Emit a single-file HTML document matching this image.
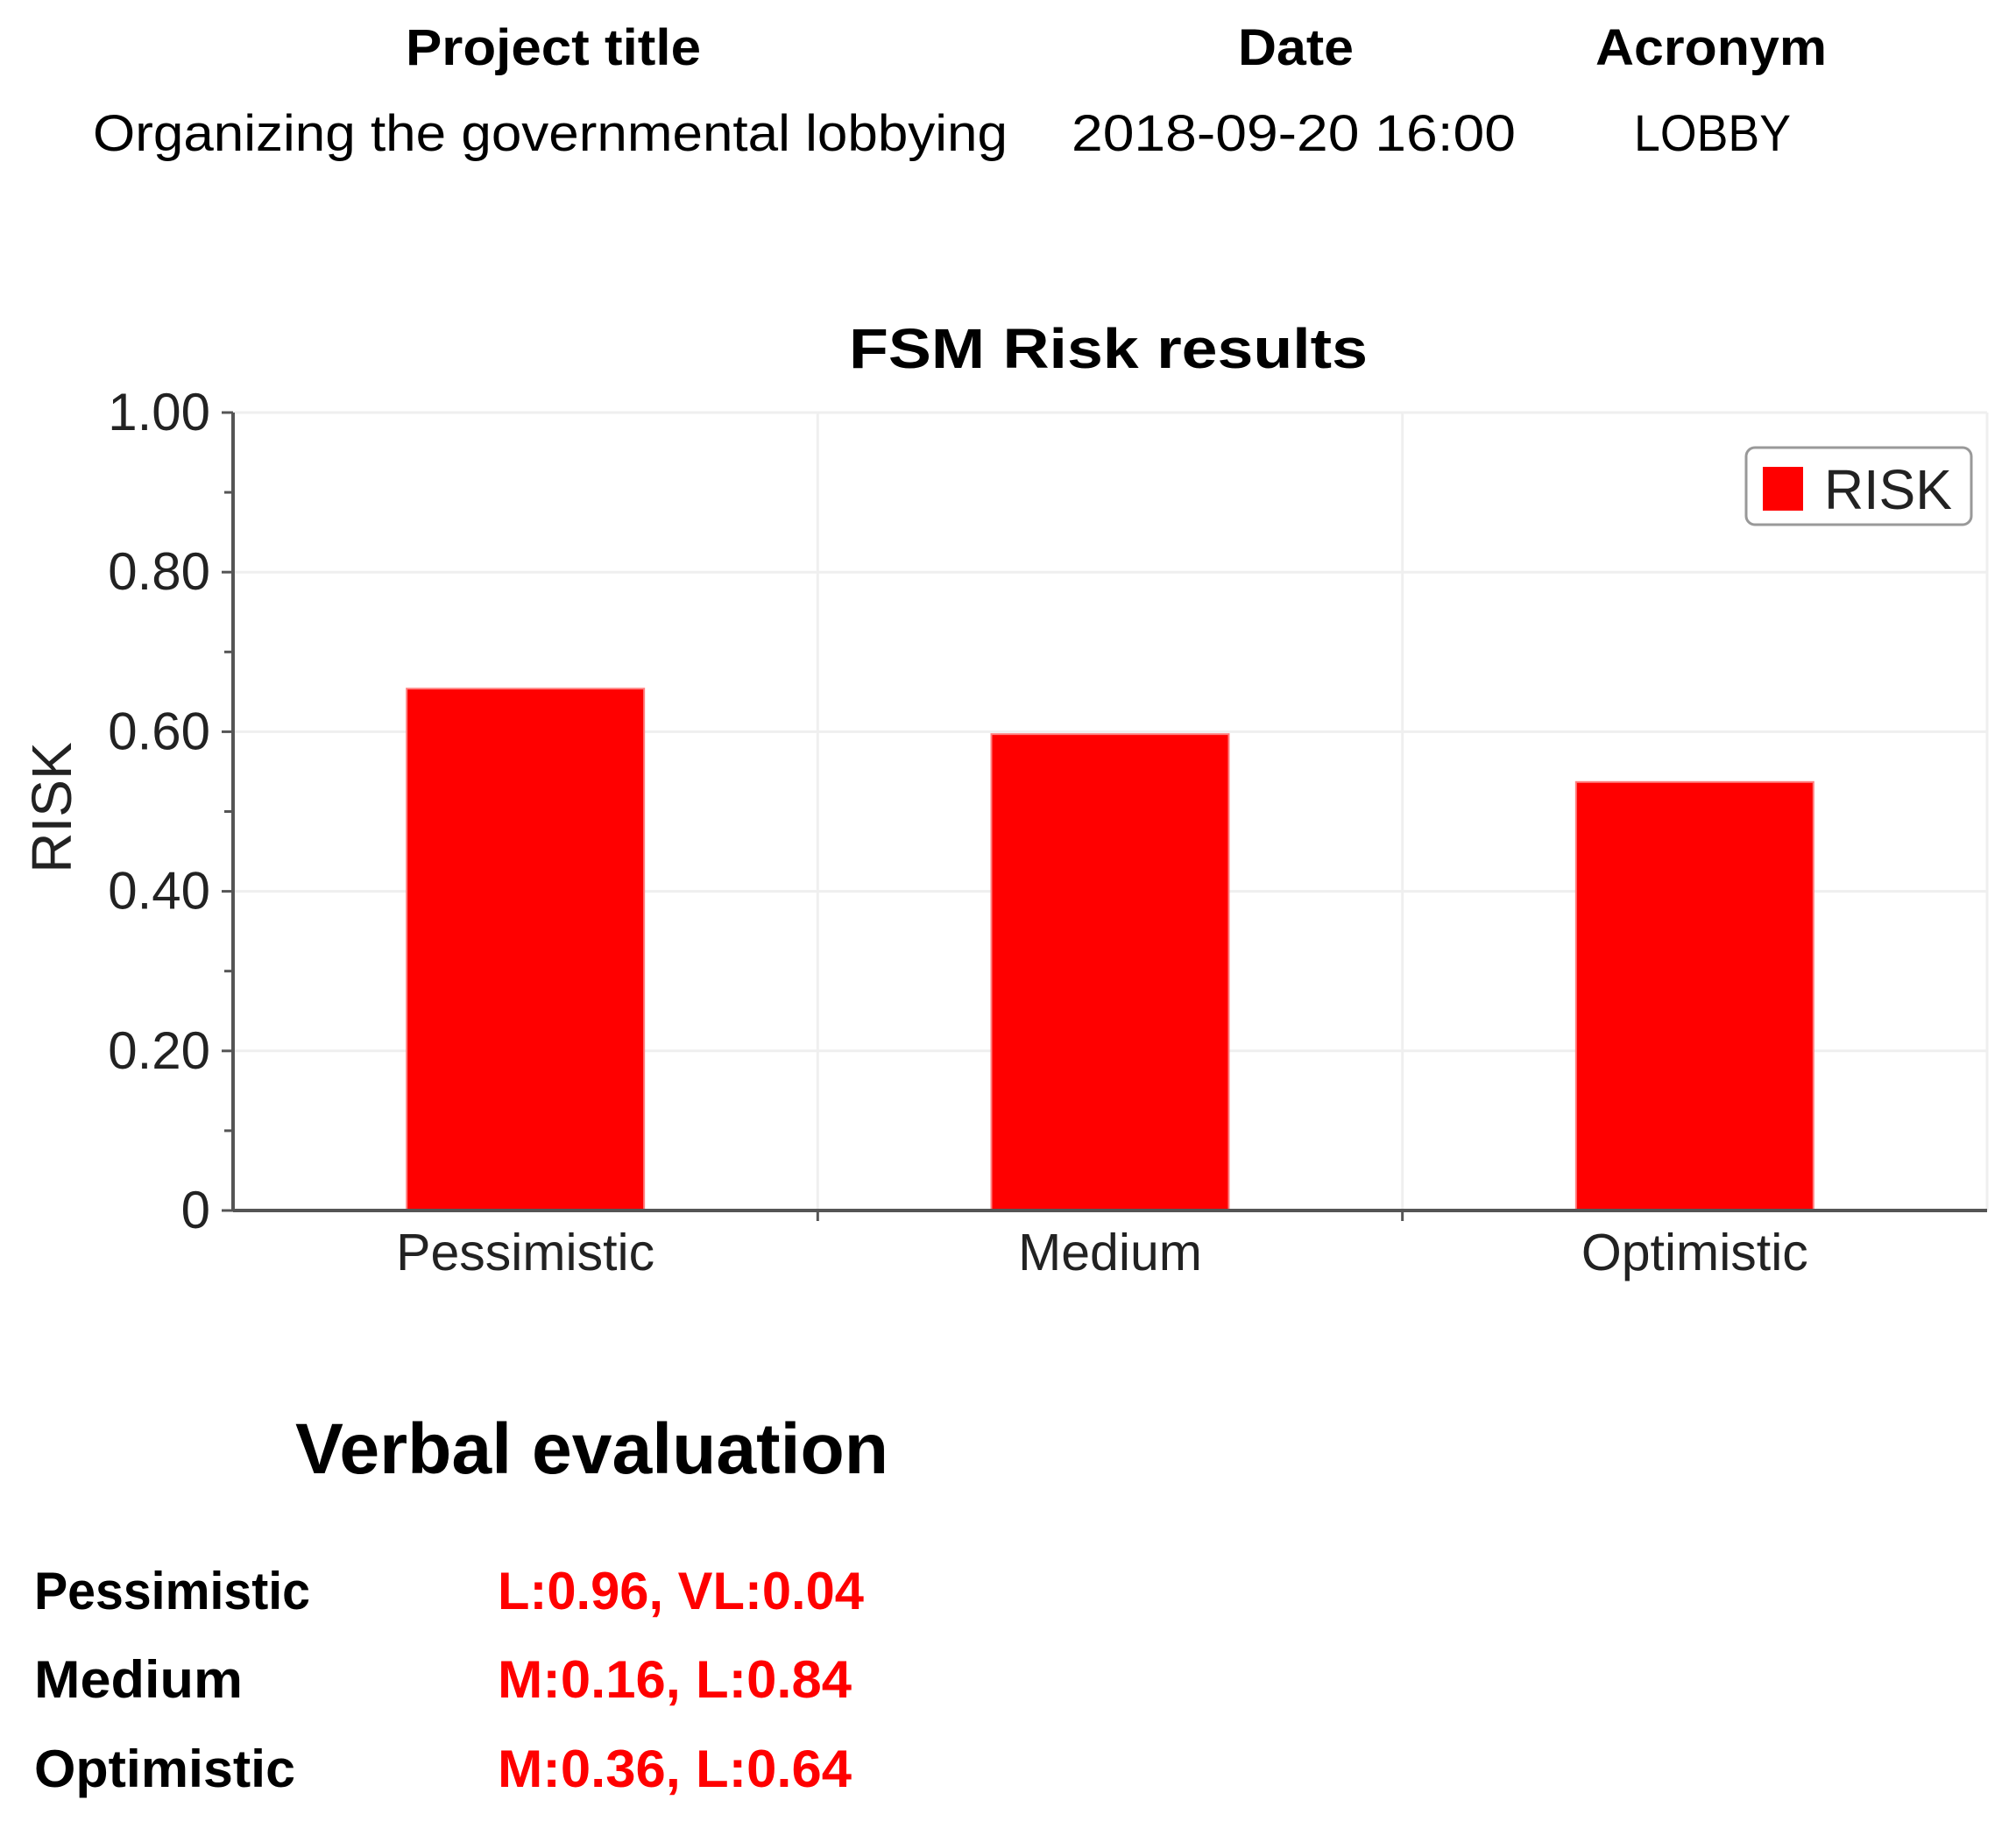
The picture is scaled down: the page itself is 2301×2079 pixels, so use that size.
<!DOCTYPE html>
<html><head><meta charset="utf-8"><style>
html,body{margin:0;padding:0;background:#fff;}
svg{display:block;font-family:"Liberation Sans",sans-serif;}
</style></head><body>
<svg id="page" width="2301" height="2079" viewBox="0 0 2301 2079" xmlns="http://www.w3.org/2000/svg">
<g font-size="58">
<text x="463" y="74" font-weight="bold" textLength="337" lengthAdjust="spacingAndGlyphs">Project title</text>
<text x="1413" y="74" font-weight="bold" textLength="132" lengthAdjust="spacingAndGlyphs">Date</text>
<text x="1821" y="74" font-weight="bold" textLength="264" lengthAdjust="spacingAndGlyphs">Acronym</text>
<text x="106" y="172" textLength="1044" lengthAdjust="spacingAndGlyphs">Organizing the governmental lobbying</text>
<text x="1223" y="172" textLength="507" lengthAdjust="spacingAndGlyphs">2018-09-20 16:00</text>
<text x="1865" y="172" textLength="179" lengthAdjust="spacingAndGlyphs">LOBBY</text>
</g>
<g id="chart"></g>
<g>
<text x="337" y="1682" font-size="82" font-weight="bold" textLength="677" lengthAdjust="spacingAndGlyphs">Verbal evaluation</text>
<text x="39" y="1837" font-size="60" font-weight="bold" textLength="315" lengthAdjust="spacingAndGlyphs">Pessimistic</text>
<text x="568" y="1837" font-size="60" font-weight="bold" fill="#ff0000" textLength="418" lengthAdjust="spacingAndGlyphs">L:0.96, VL:0.04</text>
<text x="39" y="1938" font-size="60" font-weight="bold" textLength="238" lengthAdjust="spacingAndGlyphs">Medium</text>
<text x="568" y="1938" font-size="60" font-weight="bold" fill="#ff0000" textLength="404" lengthAdjust="spacingAndGlyphs">M:0.16, L:0.84</text>
<text x="39" y="2040" font-size="60" font-weight="bold" textLength="298" lengthAdjust="spacingAndGlyphs">Optimistic</text>
<text x="568" y="2040" font-size="60" font-weight="bold" fill="#ff0000" textLength="404" lengthAdjust="spacingAndGlyphs">M:0.36, L:0.64</text>
</g>
</svg>
<script>
const categories = ["Pessimistic", "Medium", "Optimistic"];
const riskValues = [0.654, 0.597, 0.537];
const yTickValues = [0, 0.2, 0.4, 0.6, 0.8, 1.0];
const yTickLabels = ["0", "0.20", "0.40", "0.60", "0.80", "1.00"];
const yMinorTicks = [0.1, 0.3, 0.5, 0.7, 0.9];

const NS = "http://www.w3.org/2000/svg";
const chart = document.getElementById("chart");
const L = 266, R = 2268, T = 471, B = 1382;
const yScale = v => B - (v / 1.0) * (B - T);
const band = (R - L) / categories.length;
const xCenter = i => L + band * (i + 0.5);
const barW = 271;
function mk(tag, attrs, parent) {
  const e = document.createElementNS(NS, tag);
  for (const k in attrs) e.setAttribute(k, attrs[k]);
  (parent || chart).appendChild(e);
  return e;
}
let t = mk("text", {x: 969, y: 420, "font-size": 64, "font-weight": "bold", textLength: 592, lengthAdjust: "spacingAndGlyphs"});


t.textContent = "FSM Risk results";
yTickValues.forEach((v, i) => {
  const g = mk("line", {x1: L, x2: R, y1: yScale(v), y2: yScale(v), stroke: "#efefef", "stroke-width": 3});
  
  
});
for (let i = 1; i <= categories.length; i++) {
  const g = mk("line", {x1: L + band * i, x2: L + band * i, y1: T, y2: B, stroke: "#efefef", "stroke-width": 3});
  
  
}
categories.forEach((c, i) => {
  const y = yScale(riskValues[i]);
  const b = mk("rect", {x: xCenter(i) - barW / 2, y: y, width: barW, height: B - y, fill: "#ff0000", stroke: "#ff8080", "stroke-width": 2});
  
  
  const lb = mk("text", {x: xCenter(i), y: 1450, "font-size": 59, "text-anchor": "middle", fill: "#222"});
  
  
  lb.textContent = c;
  if (i > 0) {
    const tk = mk("line", {x1: L + band * i, x2: L + band * i, y1: B, y2: B + 12, stroke: "#555", "stroke-width": 3});
    
    
  }
});
let ax = mk("line", {x1: L, x2: L, y1: T, y2: B, stroke: "#555", "stroke-width": 4});


ax = mk("line", {x1: L, x2: R, y1: B, y2: B, stroke: "#555", "stroke-width": 4});


yTickValues.forEach((v, i) => {
  const tk = mk("line", {x1: 253, x2: L, y1: yScale(v), y2: yScale(v), stroke: "#555", "stroke-width": 3});
  
  
  const lb = mk("text", {x: 240, y: yScale(v) + 20, "font-size": 60, "text-anchor": "end", fill: "#222"});
  
  
  lb.textContent = yTickLabels[i];
});
yMinorTicks.forEach(v => {
  const tk = mk("line", {x1: 256, x2: L, y1: yScale(v), y2: yScale(v), stroke: "#555", "stroke-width": 3});
  
  
});
const yt = mk("text", {x: 0, y: 0, "font-size": 64, "text-anchor": "middle", fill: "#222", transform: "translate(81,922) rotate(-90)"});


yt.textContent = "RISK";
const lg = mk("g", {});


mk("rect", {x: 1993, y: 511, width: 257, height: 88, rx: 10, fill: "#fff", stroke: "#999", "stroke-width": 3}, lg);
const sw = mk("rect", {x: 2012, y: 533, width: 46, height: 50, fill: "#ff0000"}, lg);


const lt = mk("text", {x: 2082, y: 581, "font-size": 64, fill: "#222", textLength: 146, lengthAdjust: "spacingAndGlyphs"}, lg);


lt.textContent = "RISK";
</script>
</body></html>
